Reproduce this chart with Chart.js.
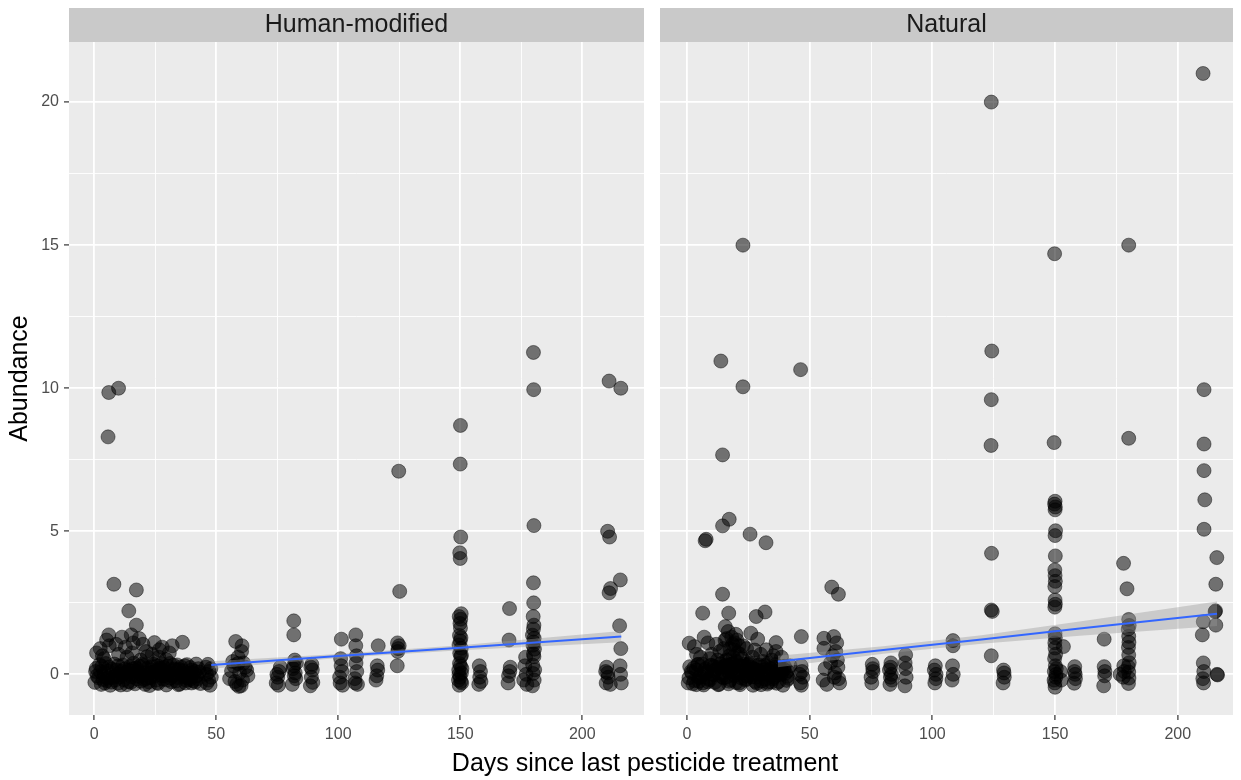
<!DOCTYPE html>
<html><head><meta charset="utf-8">
<script src="https://cdn.jsdelivr.net/npm/chart.js@4.4.1/dist/chart.umd.min.js"></script>
<style>
html,body{margin:0;padding:0;background:#fff;width:1241px;height:780px;overflow:hidden;}
#wrap{position:relative;width:1241px;height:780px;}
canvas{position:absolute;top:0;}
#cA{left:0;} #cB{left:652px;}
#xtitle{position:absolute;left:345px;width:600px;top:747px;text-align:center;font:25px "Liberation Sans",Arial,sans-serif;line-height:30px;color:#000;}
</style></head><body>
<div id="wrap">
<canvas id="cA" width="652" height="780"></canvas>
<canvas id="cB" width="589" height="780"></canvas>
<div id="xtitle">Days since last pesticide treatment</div>
</div>
<script>
const FONT = '"Liberation Sans", Arial, Helvetica, sans-serif';
const panelLabels = ['Human-modified', 'Natural'];
const xTicks = [0, 50, 100, 150, 200];
const xMinor = [25, 75, 125, 175];
const yTicks = [0, 5, 10, 15, 20];
const yMinor = [2.5, 7.5, 12.5, 17.5];

// ---- Human-modified panel ----
const hmDays = [
 0.3,1.8,2.9,4.1,5.2,6.6,7.4,8.9,9.7,11.2,12.1,13.4,14.6,15.3,16.8,17.9,19.1,20.2,21.4,22.7,23.5,24.9,25.8,27.1,28.3,29.6,30.4,31.7,32.9,34.2,35.1,36.5,37.8,38.6,39.9,41.3,42.4,43.6,
 0.9,2.2,3.6,4.8,5.9,7.0,8.3,9.2,10.5,11.8,12.9,14.0,15.9,16.2,17.5,18.7,19.8,20.9,22.1,23.2,24.3,25.4,26.6,27.7,28.9,30.1,31.2,32.4,33.6,34.8,35.9,37.2,38.3,39.4,40.6,41.8,43.1,
 1.2,2.6,4.4,6.1,7.8,9.9,10.9,12.5,13.8,15.0,16.5,18.2,19.5,21.0,22.4,23.9,25.1,26.2,27.4,28.6,29.9,31.0,32.2,33.3,34.5,35.6,36.9,38.0,39.2,40.3,41.5,42.7,
 0.6,3.2,5.5,8.6,11.5,14.3,17.2,20.6,23.0,26.0,28.0,31.4,34.0,37.5,40.0,42.0,
 8.1,17.3,14.2,17.3,6.0,11.4,15.2,32.0,36.2,24.7,1.0,21.3,26.7,6.2,15.5,10.0,21.7,26.5,4.0,19.0,29.5,
 6.0,5.7,10.0,
 46.2,47.1,45.8,48.0,46.6,47.5,46.0,47.8,46.9,
 55.5,57.2,58.4,59.6,60.8,61.9,63.0,56.3,58.9,60.2,62.5,57.7,61.2,59.0,60.4,58.0,60.6,56.8,59.3,
 74.6,75.8,75.2,76.3,74.9,75.5,
 81.2,82.4,81.8,82.6,81.5,82.0,82.2,81.8,81.8,82.9,
 88.6,89.4,89.0,88.8,89.6,89.2,
 100.8,101.5,101.2,100.6,101.8,101.3,101.0,
 107.0,107.6,107.3,106.8,107.9,107.2,107.2,107.5,
 115.5,116.2,115.8,116.0,116.4,
 124.2,124.6,125.0,124.4,125.2,124.8,124.3,
 149.6,150.3,149.9,150.5,149.4,150.1,150.6,149.7,150.2,149.8,150.4,149.5,150.0,150.3,149.7,150.1,149.9,150.2,149.6,150.4,150.0,149.8,150.2,150.0,150.1,149.5,150.7,149.3,150.5,
 157.6,158.3,158.0,157.8,158.5,
 169.6,170.3,170.0,170.2,169.8,170.5,
 176.0,176.5,177.0,176.8,177.3,
 179.6,180.3,179.9,180.5,179.7,180.2,180.0,180.4,179.8,180.1,180.3,179.6,180.0,180.2,179.9,180.1,180.0,180.2,180.1,180.0,
 209.8,210.4,210.0,210.6,209.6,211.0,210.4,211.2,211.6,211.0,215.8,215.6,215.3,215.8,215.5,216.0,215.7,211.5,
 2.5,5.1,9.0,12.8,18.5,20.0,23.8,27.9,30.8,3.4,13.5,16.0
];
const hmAbund = [
 -0.28,-0.12,-0.35,0.05,-0.22,-0.38,0.18,-0.05,-0.31,0.12,-0.19,-0.36,0.27,-0.08,-0.33,0.09,-0.24,0.31,-0.14,-0.39,0.16,-0.06,-0.29,0.22,-0.17,-0.37,0.04,-0.26,0.19,-0.11,-0.34,0.13,-0.21,0.02,-0.3,0.1,-0.15,-0.32,
 0.21,0.34,-0.18,0.38,0.11,-0.27,0.36,0.15,-0.09,0.33,0.07,-0.25,0.2,0.39,-0.16,0.28,-0.02,-0.35,0.23,0.06,0.35,-0.2,0.14,0.37,-0.04,0.29,-0.13,0.32,-0.23,0.17,0.03,0.3,-0.12,0.24,-0.22,0.36,0.08,
 -0.05,0.09,-0.3,0.25,-0.1,0.3,-0.37,0.19,0.02,-0.28,0.13,-0.07,0.35,0.05,-0.26,0.27,0.11,-0.32,-0.03,0.24,-0.2,0.38,-0.05,0.15,-0.36,0.26,-0.08,0.34,-0.18,0.06,-0.27,0.2,
 0.1,0.28,-0.13,-0.2,0.0,0.14,0.22,-0.18,-0.1,0.3,0.1,0.0,0.33,-0.3,0.15,-0.05,
 3.15,2.95,2.22,1.72,1.38,1.3,1.38,1.0,1.12,1.11,0.75,0.8,0.86,1.0,0.75,0.7,0.62,0.6,0.55,0.5,0.52,
 9.85,8.3,10.0,
 -0.3,0.1,0.25,-0.1,0.35,-0.38,0.0,0.2,-0.2,
 -0.15,0.3,-0.35,0.05,-0.2,0.25,-0.05,0.12,0.38,-0.4,0.15,-0.25,0.4,0.6,0.8,1.15,1.0,0.45,-0.42,
 -0.3,0.1,-0.1,0.25,0.0,-0.38,
 -0.35,0.05,0.3,-0.15,0.2,-0.05,0.5,1.38,1.87,0.4,
 -0.4,0.15,-0.1,0.25,-0.28,0.35,
 -0.3,0.1,0.3,-0.1,-0.38,1.23,0.55,
 -0.3,0.1,0.4,-0.15,-0.35,1.38,1.0,0.65,
 -0.2,0.15,-0.05,0.3,1.0,
 0.3,0.9,1.0,0.8,2.9,7.1,1.1,
 -0.38,-0.25,-0.1,0.05,0.15,0.3,-0.3,0.38,0.62,0.74,0.91,1.03,1.17,1.28,1.36,1.62,1.78,1.93,2.02,2.12,4.05,4.25,4.8,7.35,8.7,0.0,0.2,-0.2,0.66,
 -0.35,0.1,-0.1,0.3,-0.25,
 -0.3,0.1,1.2,2.3,-0.05,0.25,
 -0.2,0.3,0.0,0.6,-0.35,
 -0.4,-0.2,0.03,0.16,0.32,0.62,0.71,0.88,1.02,1.13,1.26,1.37,1.58,1.72,2.02,2.5,3.2,5.2,9.95,11.25,
 -0.3,0.05,0.25,-0.1,0.1,10.25,5.0,4.8,3.0,2.85,10.0,3.3,1.7,0.9,0.3,-0.3,0.0,-0.35,
 0.9,1.2,1.05,0.95,1.25,1.05,0.7,0.95,0.75,0.65,0.6,1.1
];
const hmFitDays = [48, 100, 150, 216];
const hmFitMean = [0.33, 0.64, 0.93, 1.32];
const hmFitLow  = [0.20, 0.57, 0.84, 1.12];
const hmFitHigh = [0.46, 0.71, 1.02, 1.52];

// ---- Natural panel ----
const natDays = [
 0.5,1.7,3.0,4.3,5.4,6.8,7.6,9.0,10.1,11.3,12.4,13.6,14.8,15.7,16.9,18.0,19.3,20.4,21.6,22.8,23.8,25.0,26.1,27.3,28.5,29.8,30.7,32.0,33.1,34.4,35.4,36.7,38.0,39.1,40.2,41.4,
 1.1,2.4,3.7,5.0,6.2,7.3,8.5,9.6,10.8,11.9,13.1,14.2,15.4,16.6,17.7,18.8,20.0,21.1,22.3,23.4,24.6,25.7,26.9,28.1,29.2,30.3,31.5,32.7,33.8,35.0,36.2,37.4,38.6,39.7,40.9,
 0.8,2.8,4.6,6.5,8.0,9.3,11.0,12.7,14.5,15.9,17.2,18.5,19.7,21.3,22.6,24.0,25.3,26.5,27.8,29.0,30.2,31.6,32.8,34.1,35.3,36.5,37.8,39.5,40.6,42.0,
 2.0,4.9,7.1,10.4,13.0,16.0,18.9,21.8,24.4,27.0,30.0,33.0,35.8,38.3,41.0,3.8,
 0.9,7.0,3.0,6.4,7.4,7.8,14.5,17.2,14.5,25.7,32.2,14.5,17.0,28.2,31.8,15.6,26.0,28.8,36.3,32.3,36.3,13.8,22.8,22.8,46.3,46.6,
 16.8,18.2,19.5,17.5,20.6,15.5,18.9,21.2,16.2,19.9,13.4,22.5,17.9,20.1,8.5,10.0,5.5,24.3,26.7,30.0,34.6,
 46.2,46.8,46.5,47.2,45.9,46.6,
 55.5,56.3,57.0,55.8,55.8,59.8,61.3,59.0,61.7,60.0,61.5,62.2,60.6,61.0,58.5,60.3,61.8,59.4,
 75.3,75.8,75.5,75.0,75.7,
 82.7,83.3,83.0,82.5,83.5,83.1,82.9,
 88.8,89.3,89.1,88.9,89.1,
 101.0,101.5,101.2,100.8,101.4,
 108.0,108.5,108.2,108.4,108.4,
 124.0,124.2,124.0,123.9,124.1,124.0,124.4,124.0,
 129.0,129.3,128.8,129.2,
 149.6,149.8,150.0,149.8,150.1,150.0,150.2,150.0,150.1,149.9,150.0,150.1,149.9,150.0,150.1,149.9,150.0,150.1,149.9,150.0,150.2,149.8,150.1,149.7,150.3,149.9,150.0,150.4,149.6,150.5,153.4,152.2,152.5,
 158.0,158.2,157.8,158.3,157.9,
 170.0,170.0,170.2,169.8,170.3,
 180.0,180.0,177.9,179.3,180.0,180.2,179.8,180.0,180.1,179.9,180.0,180.2,179.8,180.0,180.1,179.9,178.0,178.2,177.8,176.5,
 210.3,210.7,210.7,210.7,211.0,210.7,215.9,215.5,215.2,215.4,215.5,210.4,210.0,210.4,210.6,210.2,210.5,216.0,216.2,
 14.9,16.1,17.3,18.6,19.2,20.3,21.7,15.2,22.9,11.9,12.5,25.5,27.6,9.4,3.9,31.0,35.2,38.5
];
const natAbund = [
 -0.3,0.1,-0.22,0.34,-0.06,-0.37,0.2,-0.15,0.31,-0.28,0.06,0.37,-0.12,0.24,-0.33,0.15,-0.04,0.29,-0.36,0.1,-0.2,0.33,-0.09,0.18,-0.31,0.07,0.26,-0.17,0.39,-0.27,0.12,-0.02,0.22,-0.38,0.04,-0.14,
 0.27,-0.33,0.15,-0.11,0.36,0.02,-0.26,0.32,-0.01,0.19,-0.35,-0.08,0.3,0.12,-0.19,0.38,-0.29,0.09,-0.13,0.35,0.03,0.25,-0.38,-0.1,0.33,-0.23,0.16,-0.34,0.08,-0.16,0.34,-0.25,0.13,0.28,-0.07,
 -0.12,0.22,0.35,-0.3,0.08,-0.2,0.27,-0.36,0.04,0.33,-0.24,0.21,0.06,-0.3,0.28,-0.16,0.37,0.0,-0.25,0.14,-0.36,0.31,0.02,0.2,-0.1,-0.31,0.09,0.17,-0.21,0.3,
 0.05,-0.24,0.12,0.0,0.26,-0.1,0.1,0.3,-0.05,0.2,0.02,-0.28,0.25,0.0,0.12,-0.36,
 1.09,1.3,0.97,2.14,4.67,4.72,7.67,5.42,5.19,4.9,4.6,2.8,2.14,2.02,2.18,1.67,1.44,1.23,1.11,0.86,0.8,10.95,10.05,15.0,10.65,1.32,
 1.5,1.3,1.1,0.9,0.75,1.2,0.6,1.0,0.5,1.4,0.8,0.55,0.35,0.45,1.1,0.7,0.6,0.9,0.6,0.7,0.5,
 -0.3,0.1,0.3,-0.1,0.0,-0.38,
 -0.2,0.2,-0.35,0.91,1.26,1.32,0.5,3.05,2.8,-0.1,0.25,-0.3,0.8,1.1,0.4,0.05,-0.15,0.65,
 -0.3,0.1,0.35,-0.1,0.2,
 -0.35,0.0,0.25,0.15,-0.2,0.4,-0.1,
 -0.4,-0.1,0.2,0.4,0.68,
 -0.3,0.0,0.3,0.15,-0.15,
 -0.2,0.0,0.3,1.18,1.0,
 20.0,11.3,9.6,8.0,4.23,2.25,2.2,0.65,
 0.15,-0.1,-0.3,0.05,
 8.1,14.7,6.05,5.95,5.85,5.75,5.02,4.85,4.14,3.65,3.45,3.25,3.07,2.6,2.45,2.35,1.42,1.28,1.1,0.92,0.7,0.55,0.3,0.1,-0.1,-0.3,-0.45,0.0,-0.2,0.2,0.97,0.1,-0.2,
 0.27,0.0,-0.31,-0.15,0.1,
 1.23,0.27,-0.05,-0.4,0.1,
 15.0,8.25,3.88,2.99,1.92,1.71,1.58,1.33,1.12,0.94,0.68,0.41,0.27,0.08,-0.13,-0.32,0.3,0.1,-0.1,0.0,
 21.0,9.95,8.05,7.12,6.1,5.07,4.08,3.15,2.19,2.22,1.72,1.84,1.38,0.4,0.1,-0.15,-0.3,0.0,-0.02,
 0.9,1.25,0.65,1.05,0.85,1.2,0.7,0.45,1.0,1.05,0.5,0.4,0.85,0.55,0.7,0.45,0.65,0.6
];
const natFitDays = [37, 80, 120, 160, 216];
const natFitMean = [0.45, 0.85, 1.22, 1.60, 2.12];
const natFitLow  = [0.25, 0.72, 1.07, 1.35, 1.69];
const natFitHigh = [0.65, 0.98, 1.37, 1.85, 2.55];

function pts(xs, ys) { return xs.map((x, i) => ({ x: x, y: ys[i] })); }

const panelBg = {
  id: 'panelBg',
  beforeDraw(chart) {
    const a = chart.chartArea, ctx = chart.ctx;
    ctx.save();
    ctx.fillStyle = '#EBEBEB';
    ctx.fillRect(a.left, a.top, a.right - a.left, a.bottom - a.top);
    ctx.fillStyle = '#C9C9C9';
    ctx.fillRect(a.left, 8, a.right - a.left, a.top - 8);
    ctx.restore();
  }
};

const minorXSet = new Set(xMinor), minorYSet = new Set(yMinor);
function isMinor(set, c) { return !!(c && c.tick && set.has(c.tick.value)); }

function makeConfig(label, days, abund, fd, fm, fl, fh, xmin, xmax, showY) {
  return {
    type: 'scatter',
    data: {
      datasets: [
        { type: 'line', data: pts(fd, fm), borderColor: '#3366FF', borderWidth: 2, pointRadius: 0, fill: false, tension: 0, order: 0 },
        { type: 'line', data: pts(fd, fl), borderColor: 'rgba(0,0,0,0)', borderWidth: 0, pointRadius: 0, fill: false, tension: 0, order: 1 },
        { type: 'line', data: pts(fd, fh), borderColor: 'rgba(0,0,0,0)', borderWidth: 0, pointRadius: 0, fill: '-1', backgroundColor: 'rgba(153,153,153,0.4)', tension: 0, order: 1 },
        { type: 'scatter', data: pts(days, abund), pointRadius: 7, backgroundColor: 'rgba(0,0,0,0.52)', borderColor: 'rgba(0,0,0,0.45)', borderWidth: 1, order: 2 }
      ]
    },
    options: {
      responsive: false, animation: false, devicePixelRatio: 1, events: [],
      layout: { padding: { top: 8, right: showY ? 5 : 8, left: 0, bottom: 0 } },
      plugins: {
        legend: { display: false }, tooltip: { enabled: false },
        title: { display: true, text: label, fullSize: false, color: '#1A1A1A',
                 font: { family: FONT, size: 25, weight: 'normal', lineHeight: 1.2 }, padding: { top: 2, bottom: 2 } }
      },
      scales: {
        x: {
          type: 'linear', min: xmin, max: xmax,
          afterBuildTicks: s => { s.ticks = xTicks.concat(xMinor).sort((a, b) => a - b).map(v => ({ value: v })); },
          afterFit: s => { s.height = 65; },
          border: { display: false },
          grid: { color: '#FFFFFF', lineWidth: c => isMinor(minorXSet, c) ? 0.9 : 1.8, drawTicks: true, tickLength: 5, tickWidth: 1.2,
                  tickColor: c => isMinor(minorXSet, c) ? 'rgba(0,0,0,0)' : '#333333' },
          ticks: { autoSkip: false, maxRotation: 0, padding: 5, color: '#4D4D4D', font: { family: FONT, size: 16 },
                   callback: v => minorXSet.has(v) ? '' : String(v) }
        },
        y: {
          type: 'linear', min: -1.42, max: 22.1, position: 'left',
          afterBuildTicks: s => { s.ticks = yTicks.concat(yMinor).sort((a, b) => a - b).map(v => ({ value: v })); },
          afterFit: s => { s.width = showY ? 69 : 7; },
          border: { display: false },
          grid: { color: '#FFFFFF', lineWidth: c => isMinor(minorYSet, c) ? 0.9 : 1.8, drawTicks: showY, tickLength: showY ? 5 : 0, tickWidth: 1.2,
                  tickColor: c => isMinor(minorYSet, c) ? 'rgba(0,0,0,0)' : '#333333' },
          ticks: { display: showY, autoSkip: false, padding: 5, color: '#4D4D4D', font: { family: FONT, size: 16 },
                   callback: v => minorYSet.has(v) ? '' : String(v) },
          title: { display: showY, text: 'Abundance', color: '#000000', font: { family: FONT, size: 25 }, padding: { top: 5, bottom: 0 } }
        }
      }
    },
    plugins: [panelBg]
  };
}

new Chart(document.getElementById('cA'), makeConfig(panelLabels[0], hmDays, hmAbund, hmFitDays, hmFitMean, hmFitLow, hmFitHigh, -10.3, 225.3, true));
new Chart(document.getElementById('cB'), makeConfig(panelLabels[1], natDays, natAbund, natFitDays, natFitMean, natFitLow, natFitHigh, -11.0, 222.5, false));
</script>
</body></html>
